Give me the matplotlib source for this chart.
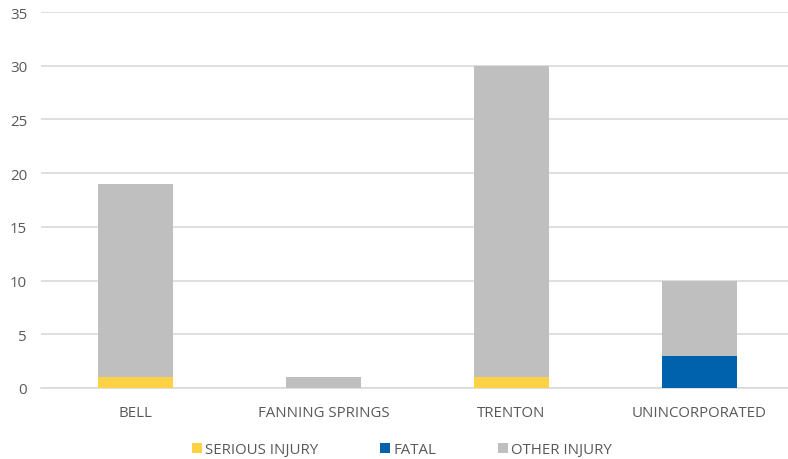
import matplotlib
matplotlib.use("Agg")
import matplotlib.pyplot as plt
import numpy as np

categories = ["BELL", "FANNING SPRINGS", "TRENTON", "UNINCORPORATED"]
serious_injury = [1, 0, 1, 0]
fatal = [0, 0, 0, 3]
other_injury = [18, 1, 29, 7]
series_names = ["SERIOUS INJURY", "FATAL", "OTHER INJURY"]
colors = ["#FFD246", "#0062AC", "#BFBFBF"]

plt.rcParams['font.family'] = ['Open Sans', 'DejaVu Sans']
fs = 10.8
plt.rcParams['font.size'] = fs

fig = plt.figure(figsize=(7.88, 4.6), dpi=100)
ax = fig.add_axes([41/788, 71/460, (788-41)/788, 376/460])

x = np.arange(len(categories))
w = 0.4
bottom = np.zeros(len(categories))
handles = []
for vals, name, c in zip([serious_injury, fatal, other_injury], series_names, colors):
    b = ax.bar(x, vals, w, bottom=bottom, color=c, label=name, zorder=3)
    handles.append(b)
    bottom += np.array(vals)

ax.set_ylim(0, 35)
ax.set_xlim(-0.503, 3.471)
ax.set_yticks(range(0, 36, 5))
ax.set_xticks(x)
ax.set_xticklabels(categories)
ax.grid(axis='y', color='#D9D9D9', linewidth=1.2, zorder=0)
ax.set_axisbelow(True)
for s in ['top', 'right', 'left']:
    ax.spines[s].set_visible(False)
ax.spines['bottom'].set_color('#D9D9D9')
ax.spines['bottom'].set_linewidth(1.2)
ax.tick_params(axis='both', length=0, colors='#595959', labelsize=fs)
ax.tick_params(axis='x', pad=12)
ax.tick_params(axis='y', pad=10)

fig.legend(handles=handles, labels=series_names, loc='center',
           bbox_to_anchor=(402/788, 1-451/460), ncol=3, frameon=False,
           handlelength=0.67, handleheight=0.67, handletextpad=0.2,
           columnspacing=4.1, labelcolor='#595959', fontsize=fs)

fig.savefig("out.png", dpi=100)
